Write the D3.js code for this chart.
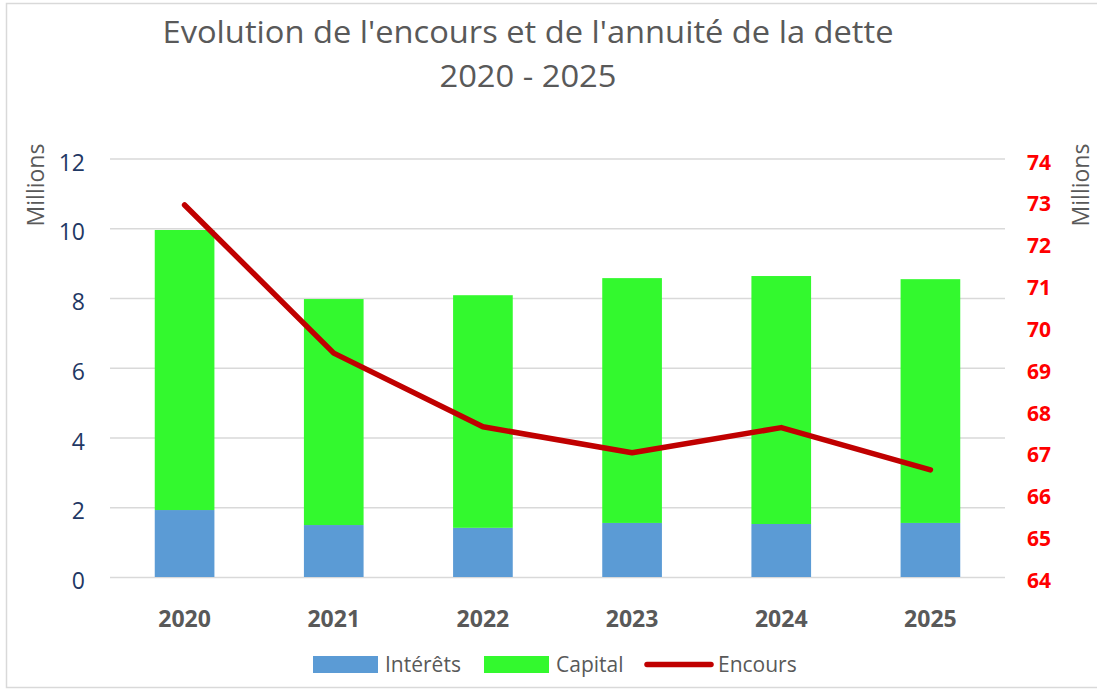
<!DOCTYPE html>
<html><head><meta charset="utf-8">
<script src="https://cdn.jsdelivr.net/npm/d3@7"></script>
<style>
html,body{margin:0;padding:0;background:#fff;}
text{font-family:"Open Sans",sans-serif;}
</style></head>
<body><svg id="c" width="1097" height="691"></svg>
<script>
const years = ["2020","2021","2022","2023","2024","2025"];
const interets = [1.92, 1.49, 1.41, 1.55, 1.52, 1.55];
const capital = [8.03, 6.48, 6.67, 7.02, 7.11, 6.99];
const encours = [72.89, 69.35, 67.59, 66.97, 67.57, 66.56];
const leftTicks = [0, 2, 4, 6, 8, 10, 12];
const rightTicks = [64, 65, 66, 67, 68, 69, 70, 71, 72, 73, 74];

const svg = d3.select("#c");
svg.append("rect").attr("x",6.5).attr("y",3.5).attr("width",1100).attr("height",684)
  .attr("fill","#fff").attr("stroke","#D9D9D9").attr("stroke-width",1.5);

const x = d3.scaleBand().domain(years).range([110, 1005]).padding(0);
const yL = d3.scaleLinear().domain([0, 12]).range([577, 158.5]);
const yR = d3.scaleLinear().domain([64, 74]).range([577, 158.5]);

// gridlines
const gAxL = svg.append("g").attr("transform","translate(110,0)")
  .call(d3.axisLeft(yL).tickValues(leftTicks).tickSize(-895).tickFormat(d3.format("d")));
gAxL.select(".domain").remove();
gAxL.selectAll(".tick line").attr("stroke","#D9D9D9").attr("stroke-width",1.5);
gAxL.selectAll(".tick text").attr("x",-25).attr("dy","0.5em")
  .attr("fill","#1F3864").style("font-size","23px");

const gAxR = svg.append("g").attr("transform","translate(1005,0)")
  .call(d3.axisRight(yR).tickValues(rightTicks).tickSize(0).tickFormat(d3.format("d")));
gAxR.select(".domain").remove();
gAxR.selectAll(".tick text").attr("x",22).attr("dy","0.5em")
  .attr("fill","#FF0000").style("font-size","21px").style("font-weight","bold");

// bars
const bw = x.bandwidth()*0.4;
const stackData = years.map((y,i)=>({year:y, interets:interets[i], capital:capital[i]}));
const series = d3.stack().keys(["interets","capital"])(stackData);
const colors = {interets:"#5B9BD5", capital:"#33F92E"};
svg.append("g").selectAll("g").data(series).join("g").attr("fill",d=>colors[d.key])
  .selectAll("rect").data(d=>d).join("rect")
  .attr("x",d=>x(d.data.year)+x.bandwidth()/2-bw/2)
  .attr("width",bw)
  .attr("y",d=>yL(d[1]))
  .attr("height",d=>yL(d[0])-yL(d[1]));

// line
const line = d3.line().x((d,i)=>x(years[i])+x.bandwidth()/2).y(d=>yR(d));
svg.append("path").datum(encours).attr("d",line).attr("fill","none")
  .attr("stroke","#C00000").attr("stroke-width",5.5)
  .attr("stroke-linecap","round").attr("stroke-linejoin","round");

// x axis labels
const gX = svg.append("g").attr("transform","translate(0,577)")
  .call(d3.axisBottom(x).tickSize(0));
gX.select(".domain").remove();
gX.selectAll(".tick text").attr("y",42).attr("dy","0.35em")
  .attr("fill","#595959").style("font-size","23px").style("font-weight","bold");

// title
svg.append("text").attr("x",528).attr("y",43).attr("text-anchor","middle")
  .attr("fill","#595959").style("font-size","31px")
  .attr("textLength",731).attr("lengthAdjust","spacingAndGlyphs")
  .text("Evolution de l'encours et de l'annuité de la dette");
svg.append("text").attr("x",528).attr("y",87).attr("text-anchor","middle")
  .attr("fill","#595959").style("font-size","31px")
  .attr("textLength",177).attr("lengthAdjust","spacingAndGlyphs").text("2020 - 2025");

// axis titles
svg.append("text").attr("transform","translate(44,185) rotate(-90)")
  .attr("text-anchor","middle").attr("fill","#595959").style("font-size","23px").text("Millions");
svg.append("text").attr("transform","translate(1089,185) rotate(-90)")
  .attr("text-anchor","middle").attr("fill","#595959").style("font-size","23px").text("Millions");

// legend
const leg = svg.append("g");
leg.append("rect").attr("x",313).attr("y",656).attr("width",65).attr("height",17).attr("fill","#5B9BD5");
leg.append("text").attr("x",385).attr("y",672).attr("fill","#595959").style("font-size","21px").text("Intérêts");
leg.append("rect").attr("x",484).attr("y",656).attr("width",65).attr("height",17).attr("fill","#33F92E");
leg.append("text").attr("x",556).attr("y",672).attr("fill","#595959").style("font-size","21px").text("Capital");
leg.append("line").attr("x1",647).attr("x2",711).attr("y1",664.5).attr("y2",664.5)
  .attr("stroke","#C00000").attr("stroke-width",5.5).attr("stroke-linecap","round");
leg.append("text").attr("x",718).attr("y",672).attr("fill","#595959").style("font-size","21px").text("Encours");
</script></body></html>
